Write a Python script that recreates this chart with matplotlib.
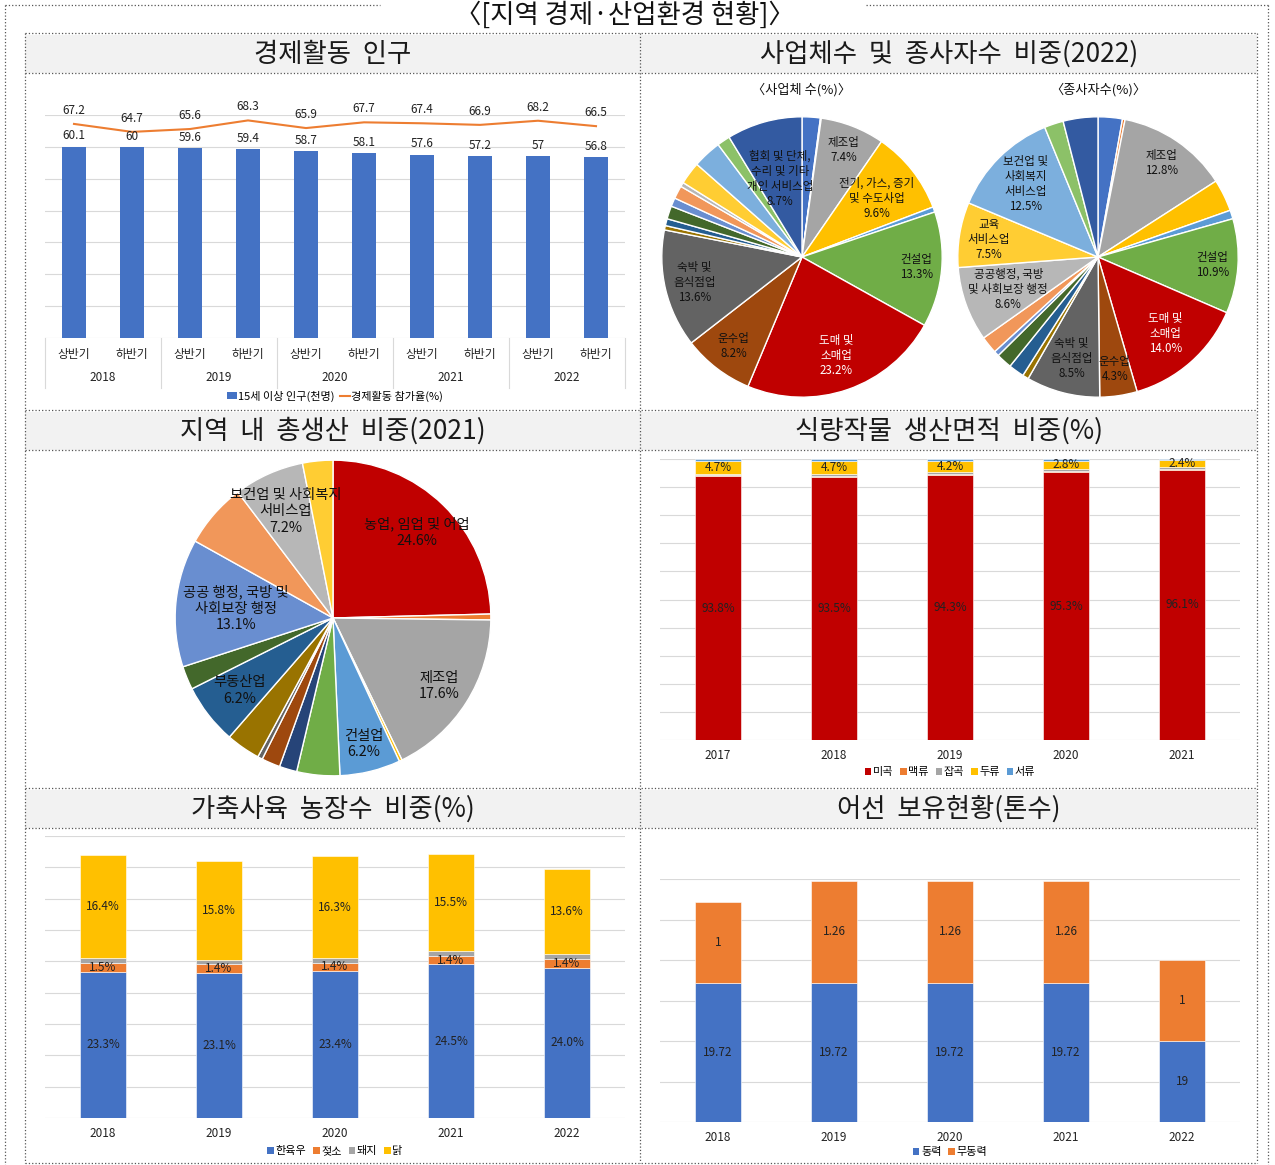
import matplotlib
matplotlib.use("Agg")
import matplotlib.pyplot as plt
from matplotlib.lines import Line2D
from matplotlib.patches import Patch, Rectangle
import numpy as np

plt.rcParams["font.family"] = ["Noto Sans CJK KR", "DejaVu Sans"]

W, H = 1275, 1165

# ---- data -------------------------------------------------------------
# 경제활동 인구
half_labels = ["상반기", "하반기"] * 5
pop_years = ["2018", "2019", "2020", "2021", "2022"]
pop_15 = [60.1, 60, 59.6, 59.4, 58.7, 58.1, 57.6, 57.2, 57, 56.8]
part_rate = [67.2, 64.7, 65.6, 68.3, 65.9, 67.7, 67.4, 66.9, 68.2, 66.5]

# 사업체 수(%) / 종사자수(%) 2022
biz_share = [2.1, 0.1, 7.4, 9.6, 0.6, 13.3, 23.2, 8.2, 13.6,
             0.5, 0.8, 1.5, 1.0, 1.5, 0.5, 2.6, 3.3, 1.5, 8.7]
biz_labels = ["", "", "제조업\n7.4%", "전기, 가스, 증기\n및 수도사업\n9.6%", "",
              "건설업\n13.3%", "도매 및\n소매업\n23.2%", "운수업\n8.2%",
              "숙박 및\n음식점업\n13.6%", "", "", "", "", "", "", "", "", "",
              "협회 및 단체,\n수리 및 기타\n개인 서비스업\n8.7%"]
emp_share = [2.8, 0.3, 12.8, 3.7, 1.0, 10.9, 14.0, 4.3, 8.5,
             0.7, 1.8, 1.8, 0.6, 2.0, 8.6, 7.5, 12.5, 2.2, 4.0]
emp_labels = ["", "", "제조업\n12.8%", "", "", "건설업\n10.9%", "도매 및\n소매업\n14.0%",
              "운수업\n4.3%", "숙박 및\n음식점업\n8.5%", "", "", "", "", "",
              "공공행정, 국방\n및 사회보장 행정\n8.6%", "교육\n서비스업\n7.5%",
              "보건업 및\n사회복지\n서비스업\n12.5%", "", ""]
industry_colors = ["#4472C4", "#ED7D31", "#A5A5A5", "#FFC000", "#5B9BD5", "#70AD47",
                   "#C00000", "#9E480E", "#636363", "#997300", "#255E91", "#43682B",
                   "#698ED0", "#F1975A", "#B7B7B7", "#FFCD33", "#7CAFDD", "#8CC168",
                   "#335AA1"]

# 지역 내 총생산 2021
grdp_share = [24.6, 0.6, 17.6, 0.3, 6.2, 4.4, 1.8, 1.9, 0.5, 3.5, 6.2, 2.4,
              13.1, 6.6, 7.2, 3.1]
grdp_labels = ["농업, 임업 및 어업\n24.6%", "", "제조업\n17.6%", "", "건설업\n6.2%",
               "", "", "", "", "", "부동산업\n6.2%", "", "공공 행정, 국방 및\n사회보장 행정\n13.1%",
               "", "보건업 및 사회복지\n서비스업\n7.2%", ""]
grdp_colors = ["#C00000", "#ED7D31", "#A5A5A5", "#FFC000", "#5B9BD5", "#70AD47",
               "#264478", "#9E480E", "#636363", "#997300", "#255E91", "#43682B",
               "#698ED0", "#F1975A", "#B7B7B7", "#FFCD33"]

# 식량작물 생산면적 비중(%)
crop_years = ["2017", "2018", "2019", "2020", "2021"]
crop_names = ["미곡", "맥류", "잡곡", "두류", "서류"]
rice = [93.8, 93.5, 94.3, 95.3, 96.1]
barley = [0.4, 0.5, 0.4, 0.3, 0.3]
grains = [0.5, 0.7, 0.5, 0.9, 0.7]
beans = [4.7, 4.7, 4.2, 2.8, 2.4]
potato = [0.6, 0.6, 0.6, 0.7, 0.5]

# 가축사육 농장수 비중(%)
farm_years = ["2018", "2019", "2020", "2021", "2022"]
farm_names = ["한육우", "젖소", "돼지", "닭"]
beef = [23.3, 23.1, 23.4, 24.5, 24.0]
dairy = [1.5, 1.4, 1.4, 1.4, 1.4]
pig = [0.7, 0.7, 0.7, 0.7, 0.7]
chicken = [16.4, 15.8, 16.3, 15.5, 13.6]

# 어선 보유현황(톤수)
boat_years = ["2018", "2019", "2020", "2021", "2022"]
boat_names = ["동력", "무동력"]
powered_label = ["19.72", "19.72", "19.72", "19.72", "19"]
unpowered_label = ["1", "1.26", "1.26", "1.26", "1"]
powered_height = [1.72, 1.72, 1.72, 1.72, 1.0]     # bar heights as drawn
unpowered_height = [1.0, 1.26, 1.26, 1.26, 1.0]

# ---- helpers ----------------------------------------------------------
def rect(x0, y0, x1, y1):
    return [x0 / W, 1 - y1 / H, (x1 - x0) / W, (y1 - y0) / H]


def fpt(x, y):
    return (x / W, 1 - y / H)


def fline(fig, x0, y0, x1, y1, ls=":", color="#555555", lw=0.9):
    fig.add_artist(Line2D([x0 / W, x1 / W], [1 - y0 / H, 1 - y1 / H],
                          transform=fig.transFigure, ls=ls, color=color, lw=lw))


def clean(ax, ymax, step):
    ax.set_ylim(0, ymax)
    ax.set_yticks(np.arange(0, ymax + 0.001, step))
    ax.yaxis.grid(True, color="#D9D9D9", lw=0.8)
    ax.set_axisbelow(True)
    for s in ax.spines.values():
        s.set_visible(False)
    ax.tick_params(left=False, bottom=False, labelleft=False)


def square_legend(fig, names, colors, center, fs=8):
    handles = [Patch(facecolor=c, edgecolor="none") for c in colors]
    fig.legend(handles, names, loc="center", bbox_to_anchor=fpt(*center),
               ncol=len(names), frameon=False, fontsize=fs, handlelength=0.6,
               handleheight=0.6, handletextpad=0.15, columnspacing=0.6,
               borderpad=0)


def draw_pie(ax, shares, colors, labels, radii, fs, white=()):
    wedges, _ = ax.pie(shares, colors=colors, startangle=90, counterclock=False,
                       wedgeprops=dict(edgecolor="white", linewidth=1))
    ax.set_xlim(-1.02, 1.02)
    ax.set_ylim(-1.02, 1.02)
    ax.set_aspect("equal")
    k = 0
    for i, (w, lab) in enumerate(zip(wedges, labels)):
        if not lab:
            continue
        ang = np.deg2rad((w.theta1 + w.theta2) / 2)
        r = radii[k]
        k += 1
        ax.text(r * np.cos(ang), r * np.sin(ang), lab, ha="center", va="center",
                fontsize=fs, linespacing=1.2,
                color="white" if i in white else "#111111")


fig = plt.figure(figsize=(W / 100, H / 100), dpi=100)

# ---- frame and headers -------------------------------------------------
fig.text(*fpt(625, 15), "〈[지역 경제·산업환경 현황]〉", ha="center", va="center",
         fontsize=19, color="#111111")
fline(fig, 5, 5, 380, 5)
fline(fig, 866, 5, 1268, 5)
fline(fig, 5, 5, 5, 1165)
fline(fig, 1268, 5, 1268, 1165)

headers = [("경제활동  인구", 333, 35), ("사업체수  및  종사자수  비중(2022)", 949, 35),
           ("지역  내  총생산  비중(2021)", 333, 412), ("식량작물  생산면적  비중(%)", 949, 412),
           ("가축사육  농장수  비중(%)", 333, 790), ("어선  보유현황(톤수)", 949, 790)]
for txt, cx, top in headers:
    x0 = 25 if cx < 640 else 640
    x1 = 640 if cx < 640 else 1257
    fig.add_artist(Rectangle(fpt(x0, top + 38), (x1 - x0) / W, 38 / H,
                             transform=fig.transFigure, facecolor="#F2F2F2",
                             edgecolor="none"))
    fig.text(*fpt(cx, top + 19), txt, ha="center", va="center", fontsize=19,
             color="#1a1a1a")
for y in [33, 73, 410, 450, 788, 828, 1163]:
    fline(fig, 25, y, 1257, y)
fline(fig, 25, 33, 25, 1163)
fline(fig, 1257, 33, 1257, 1163)
fline(fig, 640, 33, 640, 1163)

# ---- 경제활동 인구 -------------------------------------------------------
ax1 = fig.add_axes(rect(45, 115, 625, 338))
x = np.arange(len(pop_15))
ax1.bar(x, pop_15, width=0.4, color="#4472C4")
ax1.plot(x, part_rate, color="#ED7D31", lw=1.5)
clean(ax1, 70, 10)
ax1.set_xlim(-0.5, len(pop_15) - 0.5)
ax1.set_xticks([])
for i, v in enumerate(pop_15):
    ax1.annotate(f"{v:g}", (i, v), xytext=(0, 3), textcoords="offset points",
                 ha="center", va="bottom", fontsize=8.5, color="#222222")
for i, v in enumerate(part_rate):
    ax1.annotate(f"{v:g}", (i, v), xytext=(0, 5), textcoords="offset points",
                 ha="center", va="bottom", fontsize=8.5, color="#222222")
tr = ax1.get_xaxis_transform()
for i, h in enumerate(half_labels):
    ax1.text(i, -0.072, h, transform=tr, ha="center", va="center", fontsize=8.5,
             color="#222222")
for j, yr in enumerate(pop_years):
    ax1.text(2 * j + 0.5, -0.175, yr, transform=tr, ha="center", va="center",
             fontsize=8.5, color="#222222")
for b in np.arange(-0.5, len(pop_15), 2):
    ax1.plot([b, b], [0, -0.225], transform=tr, color="#D9D9D9", lw=0.8,
             clip_on=False)
fig.legend([Patch(facecolor="#4472C4"), Line2D([], [], color="#ED7D31", lw=1.5)],
           ["15세 이상 인구(천명)", "경제활동 참가율(%)"], loc="center",
           bbox_to_anchor=fpt(335, 396), ncol=2, frameon=False, fontsize=8,
           handlelength=0.9, handleheight=0.6, handletextpad=0.1,
           columnspacing=0.5, borderpad=0)

# ---- 사업체수 및 종사자수 비중 --------------------------------------------
R = 143
fig.text(*fpt(802, 90), "〈사업체 수(%)〉", ha="center", va="center", fontsize=9.5,
         color="#111111")
fig.text(*fpt(1098, 90), "〈종사자수(%)〉", ha="center", va="center", fontsize=9.5,
         color="#111111")
ax2 = fig.add_axes(rect(802 - R, 257 - R, 802 + R, 257 + R))
draw_pie(ax2, biz_share, industry_colors, biz_labels,
         [0.82, 0.68, 0.82, 0.74, 0.80, 0.79, 0.58], 8.3, white=(6,))
ax3 = fig.add_axes(rect(1098 - R, 257 - R, 1098 + R, 257 + R))
draw_pie(ax3, emp_share, industry_colors, emp_labels,
         [0.81, 0.82, 0.73, 0.81, 0.75, 0.68, 0.79, 0.73], 8.3, white=(6,))

# ---- 지역 내 총생산 비중 ---------------------------------------------------
R3 = 161
ax4 = fig.add_axes(rect(333 - R3, 618 - R3, 333 + R3, 618 + R3))
draw_pie(ax4, grdp_share, grdp_colors, grdp_labels,
         [0.76, 0.80, 0.82, 0.75, 0.62, 0.74], 10.3)

# ---- 식량작물 생산면적 비중 -----------------------------------------------
ax5 = fig.add_axes(rect(660, 459, 1240, 740))
xc = np.arange(len(crop_years))
crop_series = [rice, barley, grains, beans, potato]
crop_colors = ["#C00000", "#ED7D31", "#A5A5A5", "#FFC000", "#5B9BD5"]
bottom = np.zeros(len(xc))
for k, (vals, col) in enumerate(zip(crop_series, crop_colors)):
    ax5.bar(xc, vals, bottom=bottom, width=0.4, color=col, edgecolor="white", lw=0.4)
    if k in (0, 3):
        for i, v in enumerate(vals):
            ax5.text(i, bottom[i] + v / 2, f"{v:.1f}%", ha="center", va="center",
                     fontsize=8.5, color="#222222")
    bottom += np.array(vals)
clean(ax5, 100, 10)
ax5.set_xlim(-0.5, len(xc) - 0.5)
ax5.set_xticks(xc)
ax5.set_xticklabels(crop_years, fontsize=8.5, color="#222222")
ax5.tick_params(axis="x", pad=3)
square_legend(fig, crop_names, crop_colors, (950, 772))

# ---- 가축사육 농장수 비중 -------------------------------------------------
ax6 = fig.add_axes(rect(45, 836, 625, 1118))
xf = np.arange(len(farm_years))
farm_series = [beef, dairy, pig, chicken]
farm_colors = ["#4472C4", "#ED7D31", "#A5A5A5", "#FFC000"]
bottom = np.zeros(len(xf))
for k, (vals, col) in enumerate(zip(farm_series, farm_colors)):
    ax6.bar(xf, vals, bottom=bottom, width=0.4, color=col, edgecolor="white", lw=0.4)
    if k != 2:
        for i, v in enumerate(vals):
            ax6.text(i, bottom[i] + v / 2, f"{v:.1f}%", ha="center", va="center",
                     fontsize=8.5, color="#222222")
    bottom += np.array(vals)
clean(ax6, 45, 5)
ax6.set_xlim(-0.5, len(xf) - 0.5)
ax6.set_xticks(xf)
ax6.set_xticklabels(farm_years, fontsize=8.5, color="#222222")
ax6.tick_params(axis="x", pad=3)
square_legend(fig, farm_names, farm_colors, (335, 1151))

# ---- 어선 보유현황 --------------------------------------------------------
ax7 = fig.add_axes(rect(660, 879, 1240, 1122))
xb = np.arange(len(boat_years))
ax7.bar(xb, powered_height, width=0.4, color="#4472C4", edgecolor="white", lw=0.4)
ax7.bar(xb, unpowered_height, bottom=powered_height, width=0.4, color="#ED7D31",
        edgecolor="white", lw=0.4)
for i in range(len(xb)):
    ax7.text(i, powered_height[i] / 2, powered_label[i], ha="center", va="center",
             fontsize=8.5, color="#222222")
    ax7.text(i, powered_height[i] + unpowered_height[i] / 2, unpowered_label[i],
             ha="center", va="center", fontsize=8.5, color="#222222")
clean(ax7, 3.0, 0.5)
ax7.set_xlim(-0.5, len(xb) - 0.5)
ax7.set_xticks(xb)
ax7.set_xticklabels(boat_years, fontsize=8.5, color="#222222")
ax7.tick_params(axis="x", pad=3)
square_legend(fig, boat_names, ["#4472C4", "#ED7D31"], (950, 1152))

fig.savefig("out.png", dpi=100)
